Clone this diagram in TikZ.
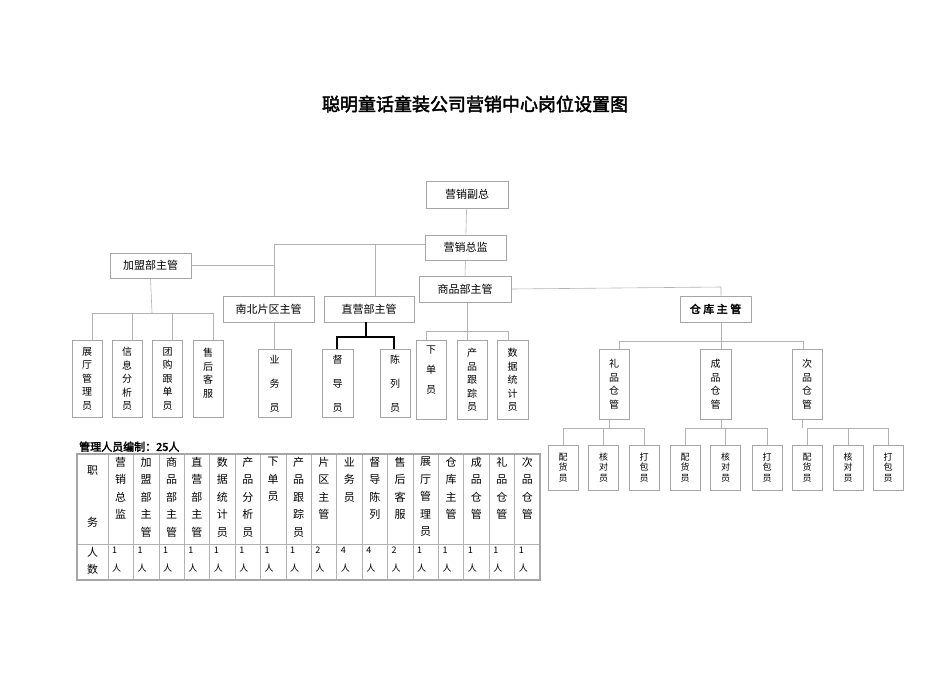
\documentclass[tikz,border=0pt]{standalone}
\usepackage{fontspec}
\setmainfont{Noto Sans CJK SC}[AutoFakeBold=2.5]
\begin{document}
\begin{tikzpicture}[x=1pt,y=-1pt,
  box/.style={draw=gray!70,line width=0.6pt,inner sep=0pt,align=center,font=\fontsize{11}{14}\selectfont},
  vbox/.style={box,font=\fontsize{10}{13.5}\selectfont,anchor=north,minimum width=30pt},
  sbox/.style={box,font=\fontsize{9}{10.5}\selectfont,minimum width=30pt,minimum height=45pt},
  ln/.style={draw=gray!60,line width=0.6pt}]
\useasboundingbox (0,0) rectangle (950,672);
\node[font=\fontsize{18}{20}\selectfont\bfseries] (title) at (475,104) {聪明童话童装公司营销中心岗位设置图};
% top level boxes
\node[box,minimum width=82pt,minimum height=27pt] (fz) at (467,194.5) {营销副总};
\node[box,minimum width=81pt,minimum height=25pt] (zj) at (465.5,247.5) {营销总监};
\node[box,minimum width=81pt,minimum height=25pt] (jm) at (150.5,265.5) {加盟部主管};
\node[box,minimum width=91pt,minimum height=26pt] (nb) at (268.5,309) {南北片区主管};
\node[box,minimum width=90pt,minimum height=26pt] (zy) at (369,309) {直营部主管};
\node[box,minimum width=92pt,minimum height=26pt] (sp) at (465,289) {商品部主管};
\node[box,minimum width=71pt,minimum height=26pt,font=\fontsize{11}{14}\selectfont\bfseries] (ck) at (715.5,309) {仓 库 主 管};
% connectors top
\draw[ln] (fz) -- (zj);
\draw[ln] (zj.south) -- (sp.north);
\coordinate (a1) at (274,244); \coordinate (a2) at (375,244);
\draw[ln] (zj.west |- a1) -- (a1) -- (nb.north -| a1);
\draw[ln] (a2) -- (zy.north -| a2);
\draw[ln] (jm.east) -- (jm.east -| a1);
\coordinate (c1) at (721,287);
\draw[ln] (sp.east) -- (c1) -- (ck.north -| c1);
% 加盟 children
\node[vbox,minimum height=77pt] (j1) at (87,340) {展\\厅\\管\\理\\员};
\node[vbox,minimum height=77pt] (j2) at (127,340) {信\\息\\分\\析\\员};
\node[vbox,minimum height=77pt] (j3) at (167.5,340) {团\\购\\跟\\单\\员};
\node[vbox,minimum height=77pt,text depth=12pt] (j4) at (208,340) {售\\后\\客\\服};
\draw[ln] (jm.south) -- (152,313);
\draw[ln] (92,340) -- (92,313) -- (213,313) -- (213,340);
\draw[ln] (132,313) -- (132,340); \draw[ln] (172,313) -- (172,340);
% 业务员
\node[vbox,minimum width=33pt,minimum height=68pt,font=\fontsize{10}{24}\selectfont] (yw) at (274.5,349) {业\\务\\员};
\draw[ln] (nb.south -| yw) -- (yw);
% 直营 children
\node[vbox,minimum width=31pt,minimum height=68pt,font=\fontsize{10}{24}\selectfont] (dd) at (337.5,349) {督\\导\\员};
\node[vbox,minimum width=30pt,minimum height=68pt,font=\fontsize{10}{24}\selectfont] (cl) at (395,349) {陈\\列\\员};
\draw[line width=1.2pt] (366,322) -- (366,337);
\draw[line width=1.2pt] (337,349) -- (337,337) -- (394,337) -- (394,349);
% 商品 children
\node[vbox,minimum height=79pt,font=\fontsize{10}{20}\selectfont,text depth=20pt] (xd) at (431,340) {下\\单\\员};
\node[vbox,minimum height=79pt] (gz) at (472,340) {产\\品\\跟\\踪\\员};
\node[vbox,minimum width=31pt,minimum height=79pt] (tj) at (512.5,340) {数\\据\\统\\计\\员};
\draw[ln] (sp.south -| 467,0) -- (467,331);
\draw[ln] (426,340) -- (426,331) -- (508,331) -- (508,340);
\draw[ln] (467,331) -- (467,340);
% 仓库 children
\node[vbox,minimum height=70pt] (lp) at (614,349) {礼\\品\\仓\\管};
\node[vbox,minimum width=31pt,minimum height=70pt] (cp) at (715.5,349) {成\\品\\仓\\管};
\node[vbox,minimum height=70pt] (ci) at (807,349) {次\\品\\仓\\管};
\draw[ln] (ck.south -| 721,0) -- (721,341);
\draw[ln] (619,349) -- (619,341) -- (803,341) -- (803,349);
\draw[ln] (721,341) -- (721,349);
% sub children
\foreach \p/\d/\xa/\xb/\xc in {lp/609/563/603.5/644, cp/721/685/725.5/767, ci/802/807/848/888}{
  \node[sbox] (\p1) at (\xa,467.5) {配\\货\\员};
  \node[sbox] (\p2) at (\xb,467.5) {核\\对\\员};
  \node[sbox] (\p3) at (\xc,467.5) {打\\包\\员};
  \draw[ln] (\p.south -| \d,0) -- (\d,428);
  \draw[ln] (\p1.north) -- (\p1.north |- 0,428) -- (\p3.north |- 0,428) -- (\p3.north);
  \draw[ln] (\p2.north) -- (\p2.north |- 0,428);
}
% table
\node[anchor=south west,font=\fontsize{11}{12}\selectfont\bfseries,inner sep=0pt] (cap) at (79,452) {管理人员编制：25人};
\draw[gray!60,line width=0.6pt] (77,544) -- (540,544);
\draw[gray!60,line width=0.6pt] (108,454) -- (108,580);
\foreach \i in {1,...,16}{\draw[gray!60,line width=0.6pt] (108+\i*25.41,454) -- (108+\i*25.41,580);}
\draw[gray!70,line width=1.2pt] (77,454) rectangle (540,580);
\node[font=\fontsize{11}{14}\selectfont,anchor=north,align=center] (zw) at (92.5,462) {职\\[38pt]务};
\node[font=\fontsize{11}{17}\selectfont,anchor=north,align=center] (rs) at (92.5,544) {人\\数};
\foreach \t [count=\i from 0] in {{营\\销\\总\\监},{加\\盟\\部\\主\\管},{商\\品\\部\\主\\管},{直\\营\\部\\主\\管},{数\\据\\统\\计\\员},{产\\品\\分\\析\\员},{下\\单\\员},{产\\品\\跟\\踪\\员},{片\\区\\主\\管},{业\\务\\员},{督\\导\\陈\\列},{售\\后\\客\\服},{展\\厅\\管\\理\\员},{仓\\库\\主\\管},{成\\品\\仓\\管},{礼\\品\\仓\\管},{次\\品\\仓\\管}}{
  \node[font=\fontsize{11}{17.5}\selectfont,anchor=north,align=center,inner sep=0pt] (h\i) at (120.7+\i*25.41,457) {\t};
}
\foreach \n [count=\i from 0] in {1,1,1,1,1,1,1,1,2,4,4,2,1,1,1,1,1}{
  \node[font=\fontsize{9}{18}\selectfont,anchor=north west,align=left,inner sep=0pt] (n\i) at (112+\i*25.41,547) {\n\\人};
}
\end{tikzpicture}
\end{document}
